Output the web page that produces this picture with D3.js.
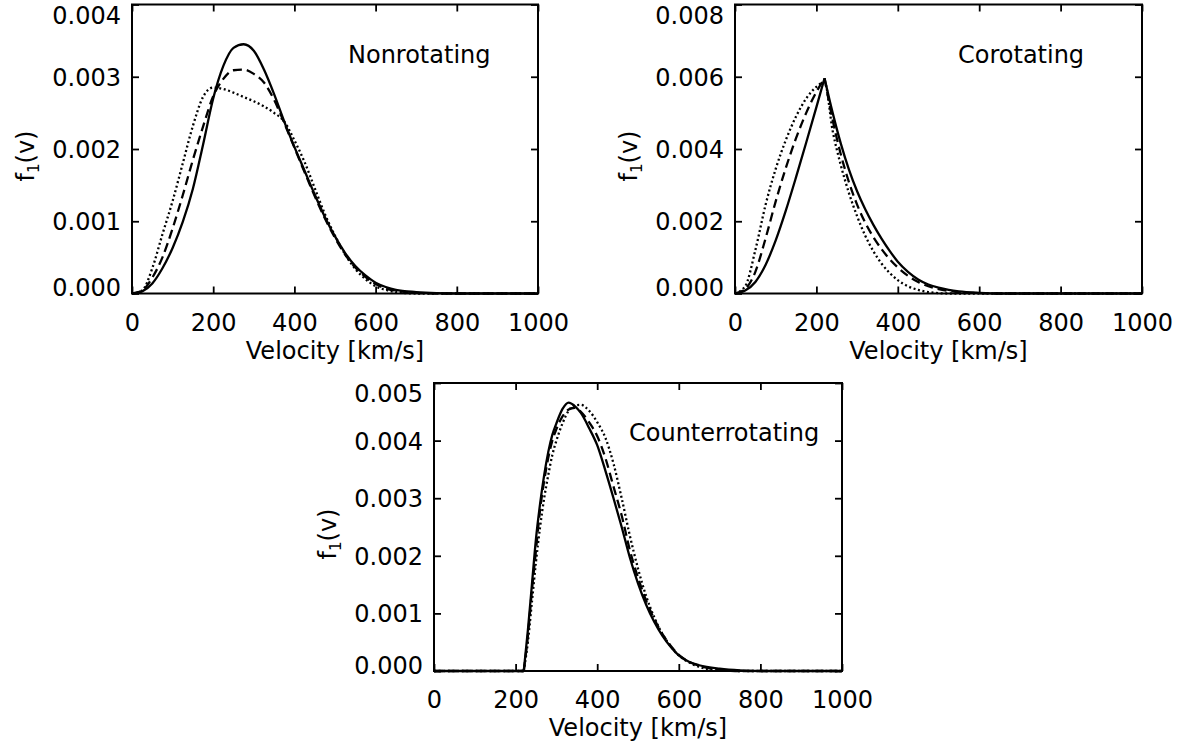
<!DOCTYPE html>
<html>
<head>
<meta charset="utf-8">
<script src="https://cdn.jsdelivr.net/npm/d3@7"></script>
<style>
  body { margin: 0; background: #fff; }
  text { font-family: "DejaVu Sans", sans-serif; fill: #000; }
</style>
</head>
<body>
<div id="chart"></div>
<script>
// velocity grids (km/s)
const velNon = [0, 25, 50, 75, 100, 125, 150, 175, 200, 225, 250, 275, 300, 325, 350, 375, 400, 425, 450, 475, 500, 525, 550, 575, 600, 625, 650, 700, 750, 800, 1000];
const velCo = [0, 25, 50, 75, 100, 125, 150, 175, 200, 220, 240, 260, 280, 300, 320, 340, 360, 380, 400, 425, 450, 475, 500, 525, 550, 600, 650, 1000];
const velCounter = [0, 220, 230, 240, 250, 260, 270, 280, 290, 300, 315, 330, 345, 360, 380, 400, 420, 440, 460, 480, 500, 520, 540, 560, 580, 600, 625, 650, 700, 750, 800, 1000];

// f1(v)
const nonSolid = [0, 0.00003, 0.00014, 0.00035, 0.00063, 0.00099, 0.00145, 0.00206, 0.0027, 0.00315, 0.0034, 0.00345, 0.00336, 0.0031, 0.00276, 0.00238, 0.00203, 0.0017, 0.00137, 0.00106, 0.00079, 0.00056, 0.00038, 0.00025, 0.00015, 0.00009, 0.00005, 0.00002, 0.000005, 0, 0];
const nonDashed = [0, 0.00004, 0.00022, 0.0005, 0.0009, 0.00136, 0.00185, 0.00231, 0.00273, 0.00297, 0.00309, 0.0031, 0.00304, 0.00292, 0.00268, 0.00236, 0.00202, 0.00168, 0.00135, 0.00104, 0.00077, 0.00054, 0.00036, 0.00023, 0.00013, 0.00007, 0.00004, 0.00001, 0, 0, 0];
const nonDotted = [0, 0.00004, 0.00035, 0.00082, 0.00128, 0.0018, 0.00232, 0.00272, 0.00285, 0.00283, 0.00278, 0.00272, 0.00266, 0.00259, 0.0025, 0.00238, 0.00212, 0.00182, 0.00146, 0.0011, 0.0008, 0.00054, 0.00034, 0.0002, 0.0001, 0.00005, 0.00002, 0, 0, 0, 0];

const coSolid = [0, 0.00008, 0.00032, 0.00079, 0.00147, 0.0023, 0.00322, 0.00418, 0.00516, 0.00596, 0.005, 0.00415, 0.00343, 0.00283, 0.00233, 0.0019, 0.00152, 0.00118, 0.00088, 0.0006, 0.00039, 0.00025, 0.00016, 0.0001, 0.00006, 0.00002, 0, 0];
const coDashed = [0, 0.00012, 0.0006, 0.00152, 0.00255, 0.00348, 0.0043, 0.005, 0.00558, 0.00596, 0.0048, 0.00385, 0.00308, 0.00246, 0.00196, 0.00156, 0.00123, 0.00095, 0.00072, 0.00049, 0.00032, 0.0002, 0.00012, 0.00007, 0.00004, 0.00001, 0, 0];
const coDotted = [0, 0.0002, 0.0012, 0.00245, 0.00345, 0.00425, 0.0049, 0.0054, 0.00572, 0.00585, 0.0045, 0.00355, 0.00278, 0.00214, 0.0016, 0.00117, 0.00083, 0.00057, 0.00037, 0.0002, 0.0001, 0.00004, 0.00001, 0, 0, 0, 0, 0];

const counterSolid = [0, 0, 0.0007, 0.0015, 0.0023, 0.0029, 0.0034, 0.0038, 0.0041, 0.0043, 0.00455, 0.00466, 0.0046, 0.00448, 0.00422, 0.00392, 0.00348, 0.003, 0.0025, 0.00197, 0.00152, 0.00115, 0.00085, 0.00061, 0.00042, 0.00027, 0.00016, 0.0001, 0.00004, 0.00001, 0, 0];
const counterDashed = [0, 0, 0.0006, 0.0014, 0.0021, 0.0028, 0.0033, 0.0037, 0.004, 0.0042, 0.00442, 0.00454, 0.00457, 0.0045, 0.00432, 0.00408, 0.0037, 0.0032, 0.0027, 0.0021, 0.00162, 0.00122, 0.0009, 0.00064, 0.00044, 0.00028, 0.00016, 0.00009, 0.00002, 0, 0, 0];
const counterDotted = [0, 0, 0.0005, 0.0012, 0.0019, 0.0025, 0.003, 0.0034, 0.00375, 0.004, 0.0043, 0.00452, 0.00461, 0.00462, 0.00452, 0.00432, 0.00405, 0.0036, 0.003, 0.00235, 0.00178, 0.0013, 0.00093, 0.00064, 0.00043, 0.00027, 0.00015, 0.00007, 0.00001, 0, 0, 0];

const xTicks = [0, 200, 400, 600, 800, 1000];
const nonTicks = [0, 0.001, 0.002, 0.003, 0.004];
const coTicks = [0, 0.002, 0.004, 0.006, 0.008];
const counterTicks = [0, 0.001, 0.002, 0.003, 0.004, 0.005];

// layout
const fullWidth = 1191;
const fullHeight = 749;
const tickLen = 7;

const dashStyles = { solid: null, dashed: '9,5', dotted: '2,2.6' };

const panels = [
  { title: 'Nonrotating', left: 132, top: 4.5, width: 406, height: 289,
    vel: velNon, yTicks: nonTicks, titleDx: 216, titleDy: 58.5,
    series: [
      { vals: nonSolid, style: 'solid', breaks: [] },
      { vals: nonDashed, style: 'dashed', breaks: [] },
      { vals: nonDotted, style: 'dotted', breaks: [] }
    ] },
  { title: 'Corotating', left: 735, top: 4.5, width: 407, height: 289,
    vel: velCo, yTicks: coTicks, titleDx: 223, titleDy: 58.5,
    series: [
      { vals: coSolid, style: 'solid', breaks: [220] },
      { vals: coDashed, style: 'dashed', breaks: [220] },
      { vals: coDotted, style: 'dotted', breaks: [] }
    ] },
  { title: 'Counterrotating', left: 434, top: 383, width: 408, height: 288,
    vel: velCounter, yTicks: counterTicks, titleDx: 195, titleDy: 58,
    series: [
      { vals: counterSolid, style: 'solid', breaks: [220] },
      { vals: counterDashed, style: 'dashed', breaks: [220] },
      { vals: counterDotted, style: 'dotted', breaks: [220] }
    ] }
];

const svg = d3.select('#chart').append('svg')
  .attr('width', fullWidth)
  .attr('height', fullHeight);

svg.append('rect').attr('width', fullWidth).attr('height', fullHeight).attr('fill', '#fff');

const fmt = d3.format('.3f');

function splitAt(points, breaks) {
  // cut the curve at kinks so the smooth curve keeps the corner
  const parts = [];
  let cur = [];
  points.forEach(p => {
    cur.push(p);
    if (breaks.includes(p[0])) {
      parts.push(cur);
      cur = [p];
    }
  });
  if (cur.length > 1) parts.push(cur);
  return parts;
}

function drawPanel(p) {
  const g = svg.append('g').attr('transform', `translate(${p.left},${p.top})`);
  const yMax = p.yTicks[p.yTicks.length - 1];

  const x = d3.scaleLinear().domain([0, 1000]).range([0, p.width]);
  const y = d3.scaleLinear().domain([0, yMax]).range([p.height, 0]);

  const line = d3.line()
    .x(d => x(d[0]))
    .y(d => y(d[1]))
    .curve(d3.curveMonotoneX);

  p.series.forEach(s => {
    const pts = p.vel.map((v, i) => [v, s.vals[i]]);
    splitAt(pts, s.breaks).forEach(part => {
      g.append('path')
        .attr('d', line(part))
        .attr('fill', 'none')
        .attr('stroke', '#000')
        .attr('stroke-width', 2.3)
        .attr('stroke-dasharray', dashStyles[s.style]);
    });
  });

  // axes: ticks inward on all four sides
  const bottom = g.append('g').attr('transform', `translate(0,${p.height})`)
    .call(d3.axisBottom(x).tickValues(xTicks).tickSizeInner(-tickLen).tickSizeOuter(0).tickFormat(d3.format('d')));
  const top = g.append('g')
    .call(d3.axisTop(x).tickValues(xTicks).tickSizeInner(-tickLen).tickSizeOuter(0).tickFormat(''));
  const left = g.append('g')
    .call(d3.axisLeft(y).tickValues(p.yTicks).tickSizeInner(-tickLen).tickSizeOuter(0).tickFormat(fmt));
  const right = g.append('g').attr('transform', `translate(${p.width},0)`)
    .call(d3.axisRight(y).tickValues(p.yTicks).tickSizeInner(-tickLen).tickSizeOuter(0).tickFormat(''));

  [bottom, top, left, right].forEach(a => {
    a.select('.domain').remove();
    a.selectAll('.tick line').attr('stroke', '#000').attr('stroke-width', 1.8);
  });

  bottom.selectAll('.tick text')
    .attr('y', 37).attr('dy', null)
    .style('font-size', '24px')
    .style('font-family', '"DejaVu Sans", sans-serif');

  const last = p.yTicks.length - 1;
  left.selectAll('.tick text')
    .attr('x', -11)
    .attr('dy', null)
    .attr('y', (d, i) => i === 0 ? 2 : (i === last ? 18.5 : 8.5))
    .style('font-size', '24px')
    .style('font-family', '"DejaVu Sans", sans-serif');

  // frame
  g.append('rect')
    .attr('width', p.width)
    .attr('height', p.height)
    .attr('fill', 'none')
    .attr('stroke', '#000')
    .attr('stroke-width', 2);

  // x label
  g.append('text')
    .attr('x', p.width / 2)
    .attr('y', p.height + 65)
    .attr('text-anchor', 'middle')
    .style('font-size', '24px')
    .text('Velocity [km/s]');

  // y label f1(v)
  const yl = g.append('text')
    .attr('transform', `translate(-98,${p.height / 2 + 7}) rotate(-90)`)
    .attr('text-anchor', 'middle')
    .style('font-size', '24px');
  yl.append('tspan').text('f');
  yl.append('tspan').attr('dy', 5).style('font-size', '15px').text('1');
  yl.append('tspan').attr('dy', -5).text('(v)');

  // panel title
  g.append('text')
    .attr('x', p.titleDx)
    .attr('y', p.titleDy)
    .style('font-size', '24px')
    .text(p.title);
}

panels.forEach(drawPanel);
</script>
</body>
</html>
